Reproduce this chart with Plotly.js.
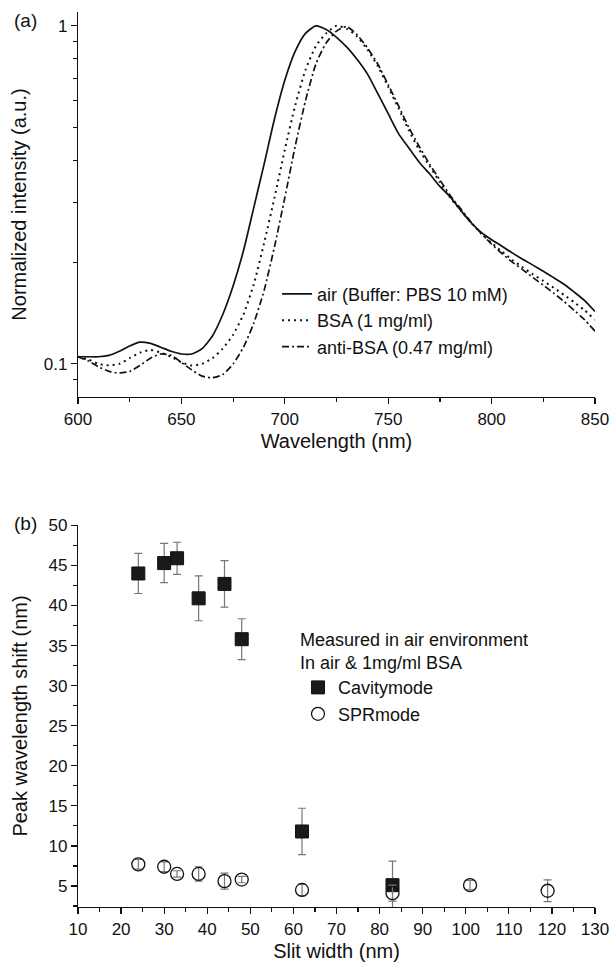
<!DOCTYPE html>
<html><head><meta charset="utf-8">
<script src="https://cdn.plot.ly/plotly-3.0.1.min.js"></script>
<style>html,body{margin:0;padding:0;background:#fff}#chart{width:614px;height:962px}</style>
</head><body><div id="chart"></div>
<script>
// ---- Panel (a): normalized spectra ----
const wavelength = [600,605,610,615,620,625,630,635,640,645,650,655,660,665,670,675,680,685,690,695,700,705,710,715,720,725,730,735,740,745,750,755,760,765,770,775,780,785,790,795,800,805,810,815,820,825,830,835,840,845,850];
const airIntensity = [0.105,0.105,0.105,0.106,0.109,0.113,0.116,0.115,0.112,0.109,0.107,0.107,0.111,0.121,0.140,0.170,0.216,0.290,0.39,0.53,0.69,0.84,0.95,1.00,0.975,0.925,0.865,0.795,0.72,0.63,0.55,0.48,0.435,0.395,0.365,0.335,0.312,0.285,0.262,0.245,0.233,0.223,0.213,0.204,0.196,0.188,0.180,0.172,0.163,0.154,0.143];
const bsaIntensity = [0.105,0.103,0.100,0.099,0.100,0.104,0.108,0.110,0.108,0.105,0.101,0.099,0.100,0.104,0.111,0.122,0.140,0.172,0.228,0.31,0.43,0.58,0.74,0.87,0.95,1.00,0.98,0.93,0.85,0.76,0.66,0.57,0.49,0.43,0.385,0.345,0.31,0.285,0.262,0.243,0.228,0.215,0.203,0.193,0.184,0.176,0.168,0.160,0.152,0.144,0.135];
const antiBsaIntensity = [0.105,0.102,0.098,0.095,0.094,0.095,0.099,0.104,0.107,0.106,0.101,0.096,0.092,0.091,0.093,0.100,0.112,0.132,0.165,0.222,0.31,0.44,0.60,0.77,0.89,0.965,0.995,0.94,0.86,0.77,0.67,0.58,0.50,0.44,0.39,0.35,0.315,0.288,0.263,0.243,0.226,0.212,0.200,0.190,0.180,0.171,0.162,0.153,0.144,0.135,0.125];
const spectraNames = ['air (Buffer: PBS 10 mM)','BSA (1 mg/ml)','anti-BSA (0.47 mg/ml)'];

// ---- Panel (b): peak wavelength shift vs slit width ----
const slitCavity = [24,30,33,38,44,48,62,83];
const shiftCavity = [44.0,45.3,45.9,40.9,42.7,35.8,11.8,5.1];
const errCavity = [2.5,2.45,2.0,2.8,2.9,2.55,2.9,3.0];
const slitSpr = [24,30,33,38,44,48,62,83,101,119];
const shiftSpr = [7.7,7.4,6.5,6.5,5.6,5.8,4.5,4.1,5.1,4.4];
const errSpr = [0.6,0.6,0.4,0.9,1.0,0.4,0.7,1.0,0.6,1.35];
const modeNames = ['Cavitymode','SPRmode'];
const legendTitleB = 'Measured in air environment<br>In air &amp; 1mg/ml BSA';

const FONT = 'Liberation Sans, Arial, Helvetica, sans-serif';
const INK = '#111';

const traces = [
  {x: wavelength, y: airIntensity, name: spectraNames[0], type:'scatter', mode:'lines',
   line:{color:INK, width:1.7, dash:'solid', shape:'spline', smoothing:0.6}, xaxis:'x', yaxis:'y', legend:'legend'},
  {x: wavelength, y: bsaIntensity, name: spectraNames[1], type:'scatter', mode:'lines',
   line:{color:INK, width:2, dash:'2px,4px', shape:'spline', smoothing:0.6}, xaxis:'x', yaxis:'y', legend:'legend'},
  {x: wavelength, y: antiBsaIntensity, name: spectraNames[2], type:'scatter', mode:'lines',
   line:{color:INK, width:1.7, dash:'7px,3px,2px,3px', shape:'spline', smoothing:0.6}, xaxis:'x', yaxis:'y', legend:'legend'},
  {x: slitCavity, y: shiftCavity, name: modeNames[0], type:'scatter', mode:'markers',
   marker:{symbol:'square', size:13, color:'#1a1a1a', line:{color:INK, width:1}},
   error_y:{type:'data', array:errCavity, visible:true, color:'#777', thickness:1.2, width:4},
   xaxis:'x2', yaxis:'y2', legend:'legend2'},
  {x: slitSpr, y: shiftSpr, name: modeNames[1], type:'scatter', mode:'markers',
   marker:{symbol:'circle-open', size:13, color:INK, line:{color:INK, width:1.3}},
   error_y:{type:'data', array:errSpr, visible:true, color:'#777', thickness:1.2, width:4},
   xaxis:'x2', yaxis:'y2', legend:'legend2'}
];

const axisCommon = {
  showline:true, linecolor:INK, linewidth:1.2, ticks:'outside', ticklen:6, tickwidth:1.2, tickcolor:INK,
  showgrid:false, zeroline:false, tickfont:{family:FONT, size:17, color:INK}, mirror:false
};

const layout = {
  width:614, height:962,
  margin:{l:78, r:19, t:12, b:55},
  paper_bgcolor:'#fff', plot_bgcolor:'#fff',
  font:{family:FONT, color:INK},
  showlegend:true,
  xaxis: Object.assign({}, axisCommon, {
    domain:[0,1], anchor:'y', range:[600,850], tick0:600, dtick:50,
    minor:{ticks:'outside', dtick:25, tick0:600, ticklen:4, tickcolor:INK},
    title:{text:'Wavelength (nm)', font:{family:FONT, size:20, color:INK}, standoff:6}
  }),
  yaxis: Object.assign({}, axisCommon, {
    domain:[0.5698,1], anchor:'x', type:'log', range:[-1.098, 0.041],
    tickmode:'array', tickvals:[0.1,1], ticktext:['0.1','1'],
    minor:{ticks:'outside', tickmode:'array', tickvals:[0.09,0.2,0.3,0.4,0.5,0.6,0.7,0.8,0.9], ticklen:4, tickcolor:INK},
    title:{text:'Normalized intensity (a.u.)', font:{family:FONT, size:20, color:INK}, standoff:11}
  }),
  xaxis2: Object.assign({}, axisCommon, {
    domain:[0,1], anchor:'y2', range:[10,130], tick0:10, dtick:10,
    minor:{ticks:'outside', dtick:5, tick0:10, ticklen:4, tickcolor:INK},
    title:{text:'Slit width (nm)', font:{family:FONT, size:20, color:INK}, standoff:6}
  }),
  yaxis2: Object.assign({}, axisCommon, {
    domain:[0,0.4268], anchor:'x2', range:[2.375,50.05], tick0:0, dtick:5,
    minor:{ticks:'outside', dtick:2.5, tick0:0, ticklen:4, tickcolor:INK},
    title:{text:'Peak wavelength shift (nm)', font:{family:FONT, size:20, color:INK}, standoff:15}
  }),
  legend:{x:0.385, y:0.7054, xanchor:'left', yanchor:'top', bgcolor:'rgba(0,0,0,0)',
    font:{family:FONT, size:18, color:INK}, tracegroupgap:0, itemwidth:30},
  legend2:{x:0.4255, y:0.318, xanchor:'left', yanchor:'top', bgcolor:'rgba(0,0,0,0)',
    font:{family:FONT, size:18, color:INK}, tracegroupgap:0, itemwidth:30,
    title:{text:legendTitleB, side:'top', font:{family:FONT, size:18, color:INK}}},
  annotations:[
    {text:'(a)', xref:'paper', yref:'paper', x:-0.128, y:1.0045, xanchor:'left', yanchor:'top', showarrow:false, font:{family:FONT, size:19, color:INK}},
    {text:'(b)', xref:'paper', yref:'paper', x:-0.128, y:0.443, xanchor:'left', yanchor:'top', showarrow:false, font:{family:FONT, size:19, color:INK}}
  ]
};

Plotly.newPlot('chart', traces, layout, {staticPlot:true, displayModeBar:false});
</script>
</body></html>
